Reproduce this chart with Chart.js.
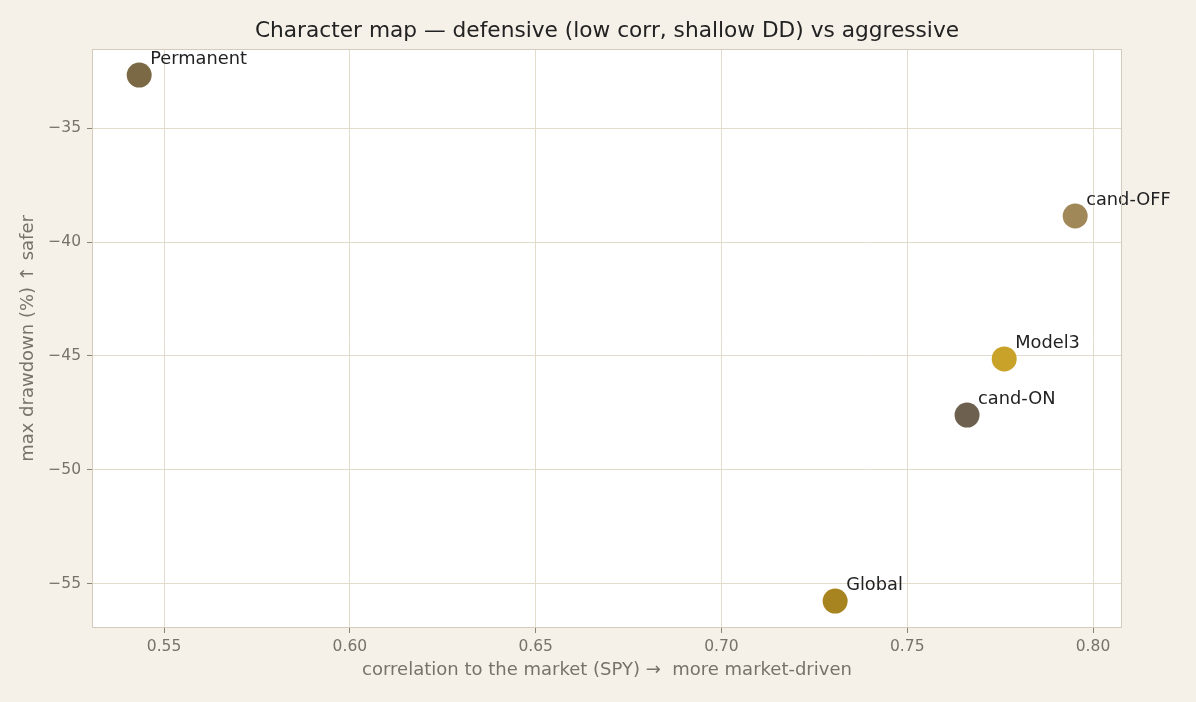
<!DOCTYPE html>
<html>
<head>
<meta charset="utf-8">
<script src="https://cdn.jsdelivr.net/npm/chart.js@4"></script>
<style>
  html, body { margin: 0; padding: 0; background: #f5f0e8; }
  canvas { display: block; }
</style>
</head>
<body>
<canvas id="charMap" width="1196" height="702"></canvas>
<script>
// data
var names = ['Permanent', 'cand-OFF', 'Model3', 'cand-ON', 'Global'];
var corr = [0.5433, 0.7952, 0.7761, 0.7661, 0.7306];
var maxDD = [-32.68, -38.86, -45.13, -47.59, -55.75];
var dotColors = ['#7a6944', '#a08858', '#c9a22a', '#6e604e', '#a88420'];
var xTicks = [0.55, 0.60, 0.65, 0.70, 0.75, 0.80];
var yTicks = [-55, -50, -45, -40, -35];
var xTitle = 'correlation to the market (SPY) \u2192  more market-driven';
var yTitle = 'max drawdown (%) \u2191 safer';

var points = names.map(function (n, i) { return { x: corr[i], y: maxDD[i] }; });

var font = "'DejaVu Sans', sans-serif";

var decor = {
    id: 'decor',
    beforeDraw: function (chart) {
        var c = chart.ctx, a = chart.chartArea;
        c.save();
        c.fillStyle = '#ffffff';
        c.fillRect(a.left, a.top, a.right - a.left, a.bottom - a.top);
        c.restore();
    },
    afterDraw: function (chart) {
        var c = chart.ctx, a = chart.chartArea;
        c.save();
        c.strokeStyle = '#d3cbbb';
        c.lineWidth = 1;
        c.strokeRect(a.left + 0.5, a.top + 0.5, a.right - a.left - 1, a.bottom - a.top - 1);
        c.textAlign = 'center';
        c.textBaseline = 'middle';
        c.fillStyle = '#222222';
        c.font = '21.7px ' + font;
        c.fillText('Character map \u2014 defensive (low corr, shallow DD) vs aggressive', 607, 31);
        // axis titles
        c.fillStyle = '#77736a';
        c.font = '18px ' + font;
        c.fillText(xTitle, (a.left + a.right) / 2, 670);
        c.translate(28, (a.top + a.bottom) / 2);
        c.rotate(-Math.PI / 2);
        c.fillText(yTitle, 0, 0);
        c.restore();
    },
    afterDatasetsDraw: function (chart) {
        var c = chart.ctx;
        var meta = chart.getDatasetMeta(0);
        c.save();
        c.fillStyle = '#222222';
        c.font = '17.8px ' + font;
        c.textAlign = 'left';
        c.textBaseline = 'middle';
        meta.data.forEach(function (pt, i) {
            c.fillText(names[i], pt.x + 11, pt.y - 16);
        });
        c.restore();
    }
};

var ctx = document.getElementById('charMap').getContext('2d');
var chart = new Chart(ctx, {
    type: 'scatter',
    data: {
        datasets: [{
            data: points,
            backgroundColor: dotColors,
            borderWidth: 0,
            pointRadius: 12.5,
            pointHoverRadius: 12.5
        }]
    },
    options: {
        responsive: false,
        animation: false,
        layout: { padding: { left: 0, right: 74, top: 49, bottom: 0 } },
        plugins: {
            legend: { display: false },
            tooltip: { enabled: false }
        },
        scales: {
            x: {
                type: 'linear',
                min: 0.5306,
                max: 0.8078,
                afterBuildTicks: function (s) { s.ticks = xTicks.map(function (v) { return { value: v }; }); },
                afterFit: function (s) { s.height = 74; },
                grid: { color: '#e2dccd', tickColor: '#8a8478', tickLength: 5, drawTicks: true },
                border: { display: false },
                ticks: {
                    color: '#77736a',
                    font: { family: font, size: 15.5 },
                    padding: 5,
                    callback: function (v) { return v.toFixed(2); }
                }
            },
            y: {
                type: 'linear',
                min: -56.93,
                max: -31.535,
                afterBuildTicks: function (s) { s.ticks = yTicks.map(function (v) { return { value: v }; }); },
                afterFit: function (s) { s.width = 92; },
                grid: { color: '#e2dccd', tickColor: '#8a8478', tickLength: 5, drawTicks: true },
                border: { display: false },
                ticks: {
                    color: '#77736a',
                    font: { family: font, size: 15.5 },
                    padding: 6,
                    callback: function (v) { return String(v).replace('-', '\u2212'); }
                }
            }
        }
    },
    plugins: [decor]
});
</script>
</body>
</html>
